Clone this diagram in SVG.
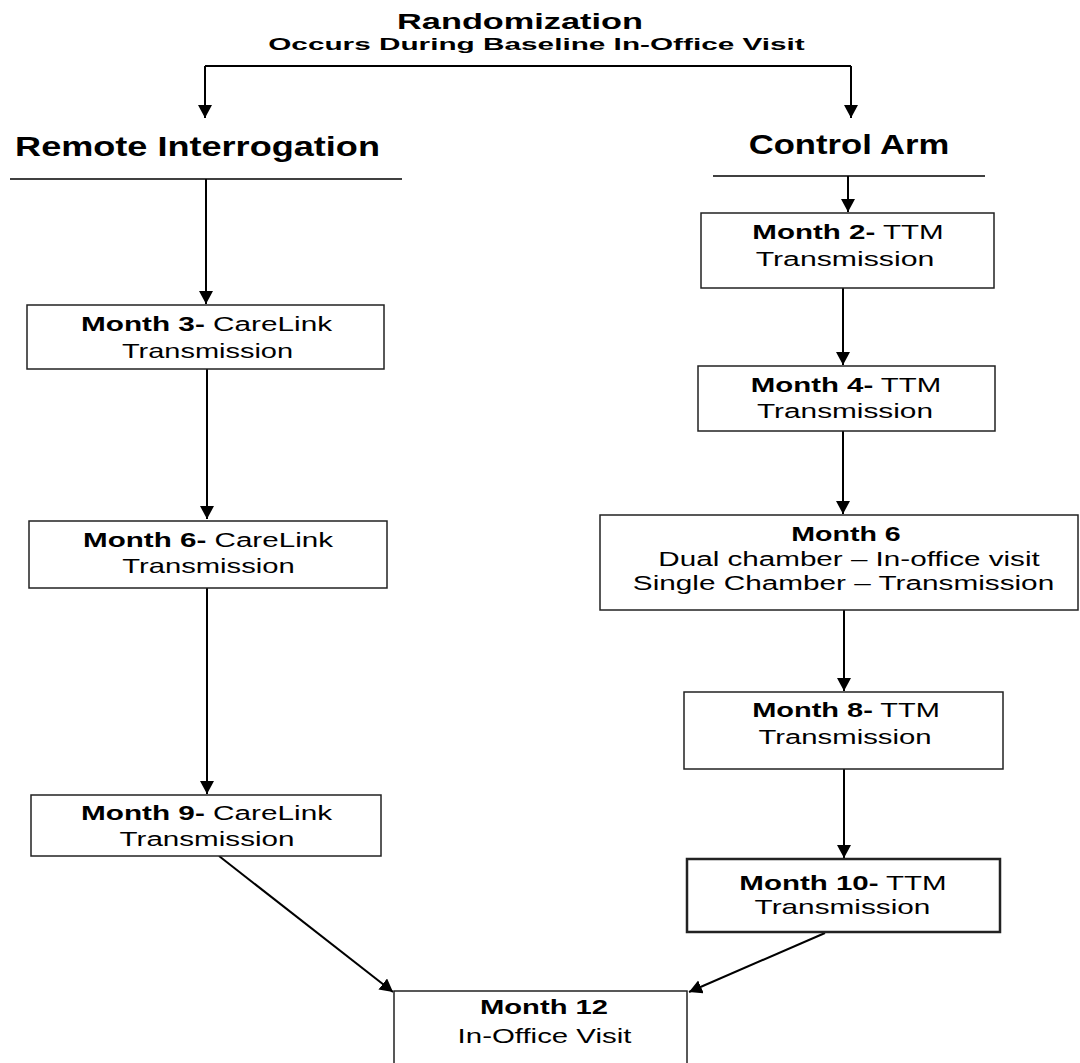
<svg xmlns="http://www.w3.org/2000/svg" width="1080" height="1063" viewBox="0 0 1080 1063">
<defs>
<marker id="ah" markerUnits="userSpaceOnUse" markerWidth="16" markerHeight="16" refX="13" refY="7" orient="auto">
<path d="M0,0 L13,7 L0,14 z" fill="#000"/>
</marker>
<style>
.t{font-family:"Liberation Sans",Arial,sans-serif;fill:#000;text-anchor:middle}
.h{font-weight:bold}
.b{font-size:21px}
.box{fill:#fff;stroke:#222;stroke-width:1.5}
.c{stroke:#000;stroke-width:2;fill:none}
.u{stroke:#000;stroke-width:1.3;fill:none}
</style>
</defs>
<rect width="1080" height="1063" fill="#fff"/>

<g id="title">
<text class="t h" font-size="22" transform="translate(520,29) scale(1.56,1)">Randomization</text>
<text class="t h" font-size="17" transform="translate(536.5,50) scale(1.75,1)">Occurs During Baseline In-Office Visit</text>
</g>

<g id="header-remote">
<text class="t h" font-size="27" transform="translate(197.5,156) scale(1.337,1)">Remote Interrogation</text>
<line class="u" x1="10" y1="179" x2="402" y2="179"/>
</g>
<g id="header-control">
<text class="t h" font-size="27" transform="translate(849,154) scale(1.283,1)">Control Arm</text>
<line class="u" x1="713" y1="176" x2="985" y2="176"/>
</g>

<g id="connectors">
<path class="c" d="M205,66 H851"/>
<path class="c" d="M205,66 V118" marker-end="url(#ah)"/>
<path class="c" d="M851,66 V118" marker-end="url(#ah)"/>
<path class="c" d="M206,179 V304" marker-end="url(#ah)"/>
<path class="c" d="M207,369 V519" marker-end="url(#ah)"/>
<path class="c" d="M207,588 V794" marker-end="url(#ah)"/>
<path class="c" d="M219,856 L393,992" marker-end="url(#ah)"/>
<path class="c" d="M848,176 V212" marker-end="url(#ah)"/>
<path class="c" d="M843,288 V365" marker-end="url(#ah)"/>
<path class="c" d="M843,431 V514" marker-end="url(#ah)"/>
<path class="c" d="M844,610 V691" marker-end="url(#ah)"/>
<path class="c" d="M844,769 V858" marker-end="url(#ah)"/>
<path class="c" d="M825,933 L689,992" marker-end="url(#ah)"/>
</g>

<g id="m3">
<rect class="box" x="27" y="305" width="357" height="64"/>
<text class="t b" transform="translate(206.5,331) scale(1.416,1)"><tspan class="h">Month 3-</tspan> CareLink</text>
<text class="t b" transform="translate(207.5,358) scale(1.38,1)">Transmission</text>
</g>
<g id="m6-remote">
<rect class="box" x="29" y="521" width="358" height="67"/>
<text class="t b" transform="translate(208,547) scale(1.41,1)"><tspan class="h">Month 6-</tspan> CareLink</text>
<text class="t b" transform="translate(208.5,573) scale(1.39,1)">Transmission</text>
</g>
<g id="m9">
<rect class="box" x="31" y="795" width="350" height="61"/>
<text class="t b" transform="translate(206.5,820) scale(1.416,1)"><tspan class="h">Month 9-</tspan> CareLink</text>
<text class="t b" transform="translate(207,846) scale(1.41,1)">Transmission</text>
</g>

<g id="m2">
<rect class="box" x="701" y="213" width="293" height="75"/>
<text class="t b" transform="translate(848,239) scale(1.407,1)"><tspan class="h">Month 2-</tspan> TTM</text>
<text class="t b" transform="translate(845,266) scale(1.44,1)">Transmission</text>
</g>
<g id="m4">
<rect class="box" x="698" y="366" width="297" height="65"/>
<text class="t b" transform="translate(846,392) scale(1.4,1)"><tspan class="h">Month 4-</tspan> TTM</text>
<text class="t b" transform="translate(845,418) scale(1.42,1)">Transmission</text>
</g>
<g id="m6-control">
<rect class="box" x="600" y="515" width="478" height="95"/>
<text class="t b h" transform="translate(846,541) scale(1.36,1)">Month 6</text>
<text class="t b" transform="translate(849,566) scale(1.411,1)">Dual chamber – In-office visit</text>
<text class="t b" transform="translate(843.5,590) scale(1.416,1)">Single Chamber – Transmission</text>
</g>
<g id="m8">
<rect class="box" x="684" y="692" width="319" height="77"/>
<text class="t b" transform="translate(846,717) scale(1.38,1)"><tspan class="h">Month 8-</tspan> TTM</text>
<text class="t b" transform="translate(845,744) scale(1.394,1)">Transmission</text>
</g>
<g id="m10">
<rect class="box" x="687" y="859" width="313" height="73" style="stroke-width:2.5"/>
<text class="t b" transform="translate(843,890) scale(1.404,1)"><tspan class="h">Month 10-</tspan> TTM</text>
<text class="t b" transform="translate(842.5,914) scale(1.418,1)">Transmission</text>
</g>
<g id="m12">
<rect class="box" x="394" y="991" width="293" height="90"/>
<text class="t b h" transform="translate(544,1014) scale(1.389,1)">Month 12</text>
<text class="t b" transform="translate(544.5,1043) scale(1.401,1)">In-Office Visit</text>
</g>
</svg>
